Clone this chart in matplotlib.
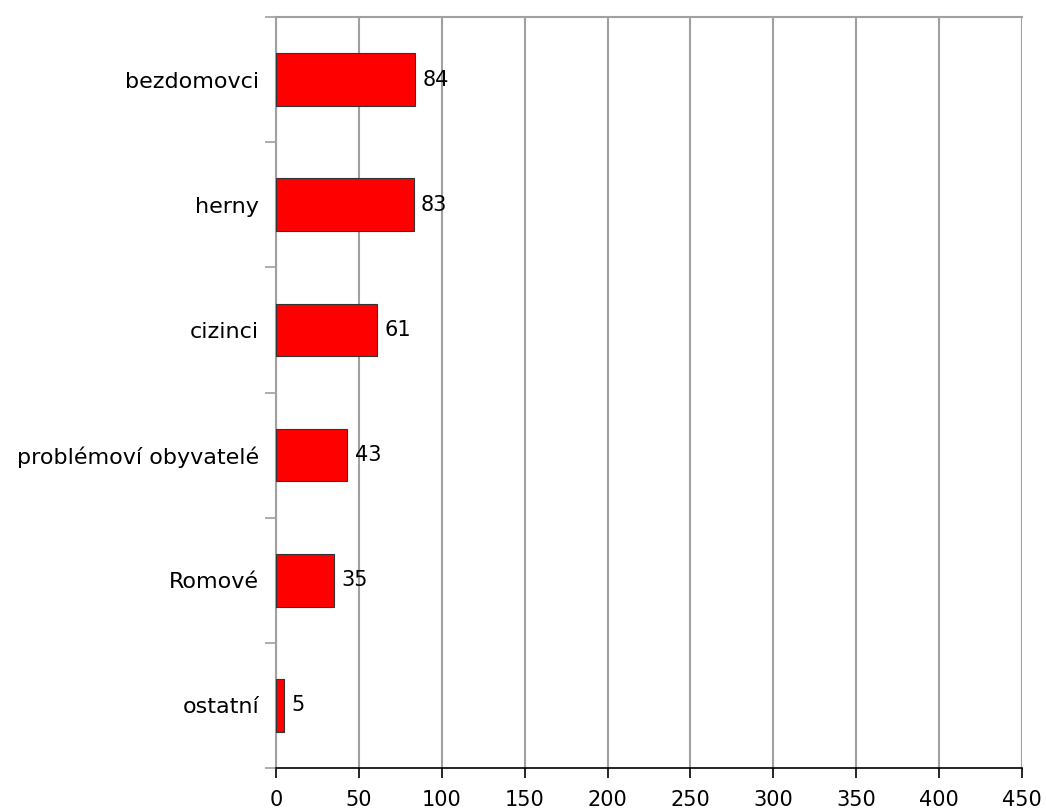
import matplotlib

matplotlib.use("Agg")

import matplotlib.pyplot as plt
import numpy as np

categories = ["bezdomovci", "herny", "cizinci", "problémoví obyvatelé", "Romové", "ostatní"]
values = [84, 83, 61, 43, 35, 5]
x_ticks = [0, 50, 100, 150, 200, 250, 300, 350, 400, 450]

GRID_COLOR = "#a0a0a0"


def main():
    plt.rcParams["font.family"] = ["DejaVu Sans"]

    fig = plt.figure(figsize=(10.46, 8.11), dpi=100)
    ax = fig.add_axes([0.2639, 0.053, 0.7132, 0.926])

    n = len(categories)
    y_pos = np.arange(n)[::-1]

    ax.barh(y_pos, values, height=0.42, color="#ff0000", edgecolor="#333333",
            linewidth=0.8, zorder=3)

    for y, v in zip(y_pos, values):
        ax.text(v + 4.5, y, str(v), va="center", ha="left", fontsize=15, zorder=4)

    ax.set_xlim(0, 450)
    ax.set_ylim(-0.5, n - 0.5)
    ax.set_xticks(x_ticks)
    ax.set_xticklabels([str(t) for t in x_ticks], fontsize=15)

    ax.set_yticks(y_pos)
    ax.set_yticklabels(categories, fontsize=16)
    ax.set_yticks(np.arange(n + 1) - 0.5, minor=True)
    ax.tick_params(axis="y", which="major", length=0, pad=12)
    ax.tick_params(axis="y", which="minor", length=8, width=1.2, color=GRID_COLOR)
    ax.tick_params(axis="x", length=7, width=1.2, color="black", pad=9)

    ax.xaxis.grid(True, color=GRID_COLOR, linewidth=1.5, zorder=0)
    ax.set_axisbelow(True)

    ax.spines["right"].set_visible(False)
    ax.spines["top"].set_color(GRID_COLOR)
    ax.spines["top"].set_linewidth(1.5)
    ax.spines["left"].set_color(GRID_COLOR)
    ax.spines["left"].set_linewidth(1.5)
    ax.spines["bottom"].set_color("black")
    ax.spines["bottom"].set_linewidth(1.2)

    fig.savefig("out.png", dpi=100)
    plt.close(fig)


if __name__ == "__main__":
    main()
